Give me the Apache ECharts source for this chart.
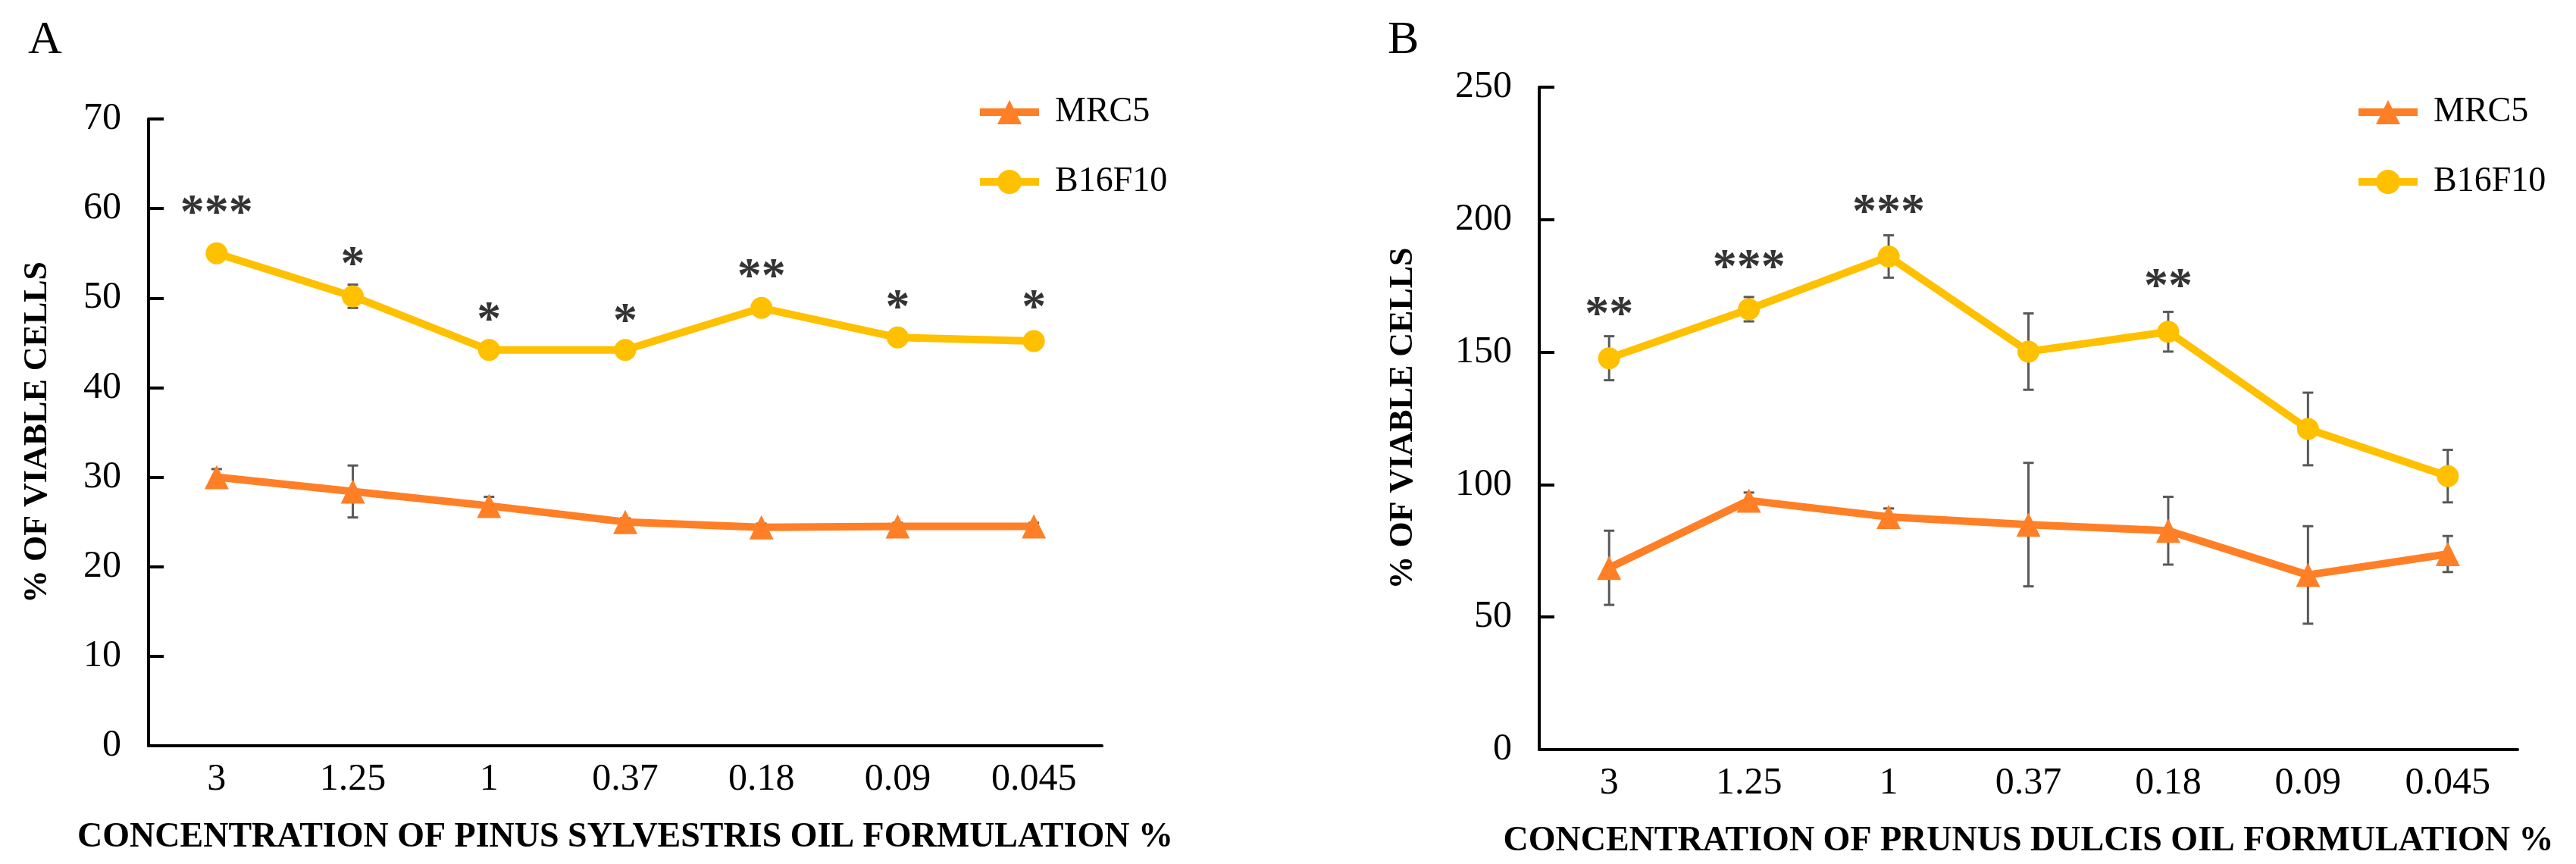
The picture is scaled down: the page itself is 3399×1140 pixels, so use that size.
<!DOCTYPE html>
<html>
<head>
<meta charset="utf-8">
<script src="https://cdn.jsdelivr.net/npm/echarts@6/dist/echarts.min.js"></script>
<style>
  html, body { margin: 0; padding: 0; background: #fff; }
  #chart { width: 3399px; height: 1140px; }
</style>
</head>
<body>
<div id="chart"></div>
<script>
  var categories = ["3", "1.25", "1", "0.37", "0.18", "0.09", "0.045"];

  // panel A: pinus sylvestris
  var mrc5A = [30.0, 28.4, 26.8, 25.0, 24.4, 24.5, 24.5];
  var mrc5ErrA = [0.9, 2.9, 1.0, 0.4, 0.4, 0.4, 0.4];
  var b16A = [55.0, 50.2, 44.2, 44.2, 48.9, 45.6, 45.2];
  var b16ErrA = [0.5, 1.3, 0.5, 0.5, 0.5, 0.5, 0.5];
  var starsA = ["***", "*", "*", "*", "**", "*", "*"];
  var starPosA = [60.1, 54.4, 48.2, 48.0, 53.0, 49.6, 49.6];

  // panel B: prunus dulcis
  var mrc5B = [68.6, 94.0, 87.8, 84.9, 82.6, 65.9, 73.8];
  var mrc5ErrB = [14.0, 3.0, 3.2, 23.3, 12.8, 18.4, 6.8];
  var b16B = [147.7, 166.2, 186.1, 150.2, 157.7, 121.0, 103.2];
  var b16ErrB = [8.3, 4.6, 8.0, 14.4, 7.5, 13.7, 9.9];
  var starsB = ["**", "***", "***", "", "**", "", ""];
  var starPosB = [166.2, 184.2, 205.1, null, 176.8, null, null];

  var ticksA = { min: 0, max: 70, interval: 10 };
  var ticksB = { min: 0, max: 250, interval: 50 };

  var FONT = "'Liberation Serif', 'Times New Roman', serif";
  var ORANGE = "#FF7F27";
  var GOLD = "#FFC000";

  var chart = echarts.init(document.getElementById("chart"), null, { renderer: "canvas" });

  function errData(vals, errs) {
    return vals.map(function (v, i) {
      return [i, v - errs[i], v + errs[i]];
    });
  }

  function starData(pos, labels) {
    var out = [];
    pos.forEach(function (p, i) {
      if (p == null) return;
      out.push({ value: [i, p], label: { formatter: labels[i] } });
    });
    return out;
  }

  function errSeries(idx, data) {
    return {
      type: "custom",
      xAxisIndex: idx,
      yAxisIndex: idx,
      z: 1,
      silent: true,
      data: data,
      renderItem: function (params, api) {
        var lo = api.coord([api.value(0), api.value(1)]);
        var hi = api.coord([api.value(0), api.value(2)]);
        var w = 7;
        var st = { stroke: "#595959", lineWidth: 3 };
        return {
          type: "group",
          children: [
            { type: "line", shape: { x1: lo[0], y1: lo[1], x2: hi[0], y2: hi[1] }, style: st },
            { type: "line", shape: { x1: lo[0] - w, y1: lo[1], x2: lo[0] + w, y2: lo[1] }, style: st },
            { type: "line", shape: { x1: hi[0] - w, y1: hi[1], x2: hi[0] + w, y2: hi[1] }, style: st }
          ]
        };
      }
    };
  }

  function lineSeries(idx, name, data, color, symbol, size) {
    return {
      name: name,
      type: "line",
      xAxisIndex: idx,
      yAxisIndex: idx,
      z: 3,
      data: data,
      symbol: symbol,
      symbolSize: size,
      lineStyle: { width: 10, color: color },
      itemStyle: { color: color },
      animation: false
    };
  }

  function starSeries(idx, data) {
    return {
      type: "scatter",
      xAxisIndex: idx,
      yAxisIndex: idx,
      z: 5,
      silent: true,
      symbolSize: 2,
      itemStyle: { color: "rgba(0,0,0,0)" },
      label: {
        show: true,
        position: "inside",
        offset: [0, 10],
        color: "#000",
        fontFamily: FONT,
        fontWeight: "bold",
        fontSize: 64
      },
      data: data
    };
  }

  function xAxis(idx, title) {
    return {
      type: "category",
      gridIndex: idx,
      data: categories,
      boundaryGap: true,
      axisLine: { lineStyle: { color: "#000", width: 4 } },
      axisTick: { show: false },
      axisLabel: { color: "#000", fontFamily: FONT, fontSize: 50, margin: 20 },
      name: title,
      nameLocation: "middle",
      nameGap: 98,
      nameTextStyle: { color: "#000", fontFamily: FONT, fontWeight: "bold", fontSize: 46 }
    };
  }

  function yAxis(idx, t, gap) {
    return {
      type: "value",
      gridIndex: idx,
      min: t.min,
      max: t.max,
      interval: t.interval,
      axisLine: { show: true, lineStyle: { color: "#000", width: 4 } },
      axisTick: { show: true, inside: true, length: 20, lineStyle: { color: "#000", width: 4 } },
      splitLine: { show: false },
      axisLabel: { color: "#000", fontFamily: FONT, fontSize: 50, margin: 36 },
      name: "% OF VIABLE CELLS",
      nameLocation: "middle",
      nameRotate: 90,
      nameGap: gap,
      nameTextStyle: { color: "#000", fontFamily: FONT, fontWeight: "bold", fontSize: 44 }
    };
  }

  function legend(left) {
    return {
      data: ["MRC5", "B16F10"],
      orient: "vertical",
      left: left,
      top: 120,
      itemWidth: 78,
      itemHeight: 40,
      itemGap: 46,
      lineStyle: { width: 10 },
      textStyle: { color: "#000", fontFamily: FONT, fontSize: 46, padding: [0, 0, 0, 16] },
      selectedMode: false
    };
  }

  chart.setOption({
    animation: false,
    backgroundColor: "#fff",
    textStyle: { fontFamily: FONT, color: "#000" },
    title: [
      { text: "A", left: 32, top: 18, textStyle: { fontFamily: FONT, fontWeight: "normal", fontSize: 62, color: "#000" } },
      { text: "B", left: 1826, top: 18, textStyle: { fontFamily: FONT, fontWeight: "normal", fontSize: 62, color: "#000" } }
    ],
    grid: [
      { left: 196, top: 157, width: 1258, height: 827 },
      { left: 2031, top: 115, width: 1291, height: 874 }
    ],
    legend: [legend(1283), legend(3102)],
    xAxis: [
      xAxis(0, "CONCENTRATION OF PINUS SYLVESTRIS OIL FORMULATION %"),
      xAxis(1, "CONCENTRATION OF PRUNUS DULCIS OIL FORMULATION %")
    ],
    yAxis: [yAxis(0, ticksA, 124), yAxis(1, ticksB, 157)],
    series: [
      errSeries(0, errData(mrc5A, mrc5ErrA)),
      errSeries(0, errData(b16A, b16ErrA)),
      lineSeries(0, "MRC5", mrc5A, ORANGE, "triangle", 32),
      lineSeries(0, "B16F10", b16A, GOLD, "circle", 29),
      starSeries(0, starData(starPosA, starsA)),
      errSeries(1, errData(mrc5B, mrc5ErrB)),
      errSeries(1, errData(b16B, b16ErrB)),
      lineSeries(1, "MRC5", mrc5B, ORANGE, "triangle", 32),
      lineSeries(1, "B16F10", b16B, GOLD, "circle", 29),
      starSeries(1, starData(starPosB, starsB))
    ]
  });
</script>
</body>
</html>
